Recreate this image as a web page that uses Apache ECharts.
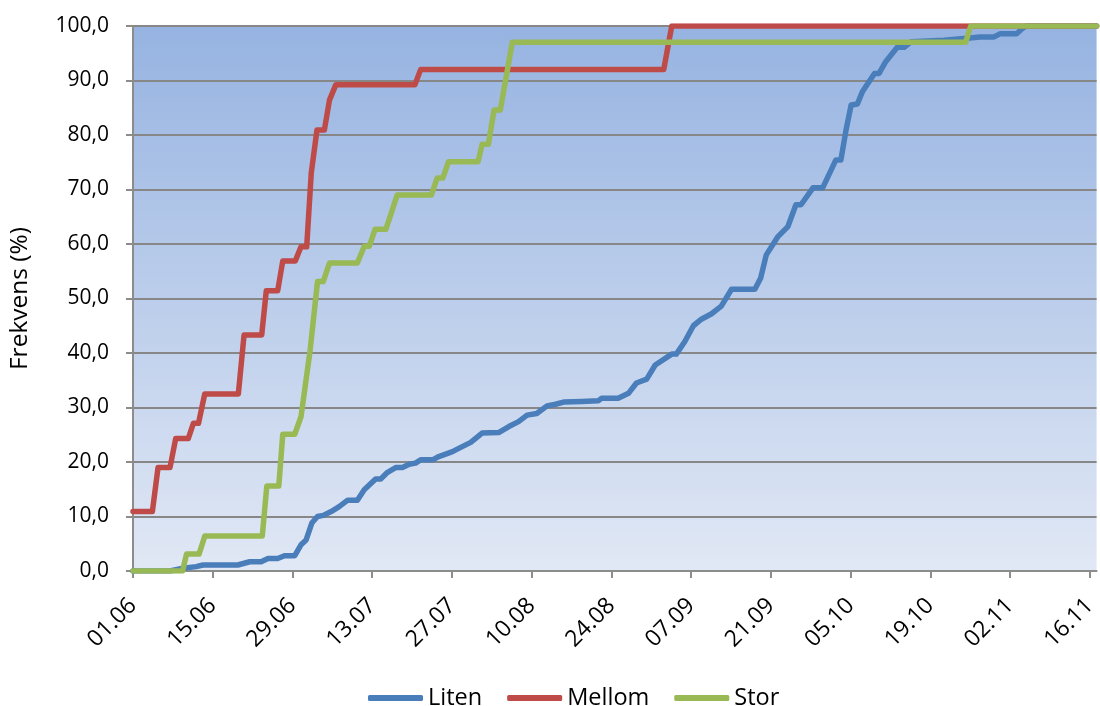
<!DOCTYPE html>
<html>
<head>
<meta charset="utf-8">
<title>Frekvens</title>
<script src="https://cdn.jsdelivr.net/npm/echarts@6/dist/echarts.min.js"></script>
<style>
  html, body { margin: 0; padding: 0; background: #ffffff; }
  #chart { width: 1100px; height: 706px; }
</style>
</head>
<body>
<div id="chart"></div>
<script>
// Date labels on the x axis, one every 14 days starting 01.06
const tickLabels = ['01.06', '15.06', '29.06', '13.07', '27.07', '10.08', '24.08',
                    '07.09', '21.09', '05.10', '19.10', '02.11', '16.11'];
const seriesNames = ['Liten', 'Mellom', 'Stor'];

// Days after 01.06 and cumulative frequency (%) for each group
const litenDays = [0, 6.5, 8.75, 11.1, 12.3, 18.4, 20.5, 22.5, 23.7, 25.4, 26.6, 28.4, 29.5, 30.4, 31.4,
  32.4, 33.4, 34.8, 36.2, 37.7, 39.4, 40.6, 42.6, 43.5, 44.7, 46.2, 47.3, 48.5, 49.6, 50.5, 52.6,
  53.7, 56.1, 57.2, 59.3, 61.3, 64.2, 66.0, 67.7, 69.2, 70.9, 72.7, 74.2, 75.6, 78.8, 81.7, 82.3,
  85.2, 87.0, 88.4, 90.2, 91.7, 94.6, 95.4, 96.9, 98.4, 99.8, 101.6, 103.3, 105.1, 109.2, 110.2,
  111.2, 113.2, 115.0, 116.4, 117.3, 119.4, 121.1, 122.6, 123.4, 124.3, 125.2, 126.1, 127.2, 128.1,
  130.2, 131.0, 132.2, 134.2, 135.4, 136.6, 142.4, 145.9, 148.8, 151.2, 152.3, 155.2, 156.1, 156.8, 169.2];
const litenPct = [0, 0, 0.5, 0.8, 1.1, 1.1, 1.7, 1.7, 2.3, 2.3, 2.8, 2.8, 4.8, 5.7, 8.8,
  10.0, 10.2, 10.9, 11.8, 13.0, 13.0, 14.9, 16.9, 16.9, 18.1, 19.0, 19.0, 19.6, 19.8, 20.4, 20.4,
  21.0, 21.9, 22.5, 23.6, 25.3, 25.4, 26.5, 27.4, 28.6, 28.9, 30.3, 30.6, 31.0, 31.1, 31.25, 31.7,
  31.7, 32.6, 34.5, 35.2, 37.8, 39.8, 39.8, 42.1, 45.0, 46.2, 47.2, 48.6, 51.7, 51.7, 53.7,
  58.0, 61.3, 63.2, 67.2, 67.2, 70.3, 70.3, 73.6, 75.4, 75.4, 80.9, 85.5, 85.7, 88.0,
  91.3, 91.3, 93.5, 96.1, 96.1, 97.1, 97.4, 97.7, 98.0, 98.0, 98.6, 98.6, 99.5, 100, 100];

const mellomDays = [0, 3.4, 4.4, 6.5, 7.5, 9.7, 10.6, 11.5, 12.6, 18.5, 19.5, 22.6, 23.4, 25.4, 26.3,
  28.5, 29.5, 30.5, 31.3, 32.3, 33.6, 34.5, 35.6, 49.5, 50.5, 93.2, 94.6, 169.2];
const mellomPct = [10.9, 10.9, 19.0, 19.0, 24.3, 24.3, 27.1, 27.1, 32.5, 32.5, 43.3, 43.3, 51.4, 51.4, 56.9,
  56.9, 59.5, 59.5, 73.0, 80.9, 80.9, 86.4, 89.2, 89.2, 92.0, 92.0, 100, 100];

const storDays = [0, 8.7, 9.4, 11.6, 12.6, 22.7, 23.5, 25.6, 26.3, 28.4, 29.5, 30.3, 31.1, 32.4, 33.4,
  34.5, 39.4, 40.6, 41.5, 42.5, 44.4, 46.4, 52.4, 53.4, 54.4, 55.4, 60.6, 61.3, 62.4, 63.4, 64.5,
  66.6, 146.2, 147.1, 169.2];
const storPct = [0, 0, 3.1, 3.1, 6.4, 6.4, 15.6, 15.6, 25.1, 25.1, 28.3, 34.4, 40.5, 53.1, 53.1,
  56.5, 56.5, 59.6, 59.6, 62.7, 62.7, 69.0, 69.0, 72.1, 72.1, 75.1, 75.1, 78.3, 78.3, 84.6, 84.6,
  97.0, 97.0, 100, 100];

const colors = ['#4A7EBB', '#BE4B48', '#98B954'];
const font = 'Open Sans, Noto Sans, sans-serif';

function pairs(days, vals) {
  return days.map((d, i) => [d, vals[i]]);
}

const chart = echarts.init(document.getElementById('chart'), null, { renderer: 'canvas' });

const lineSeries = [
  pairs(litenDays, litenPct),
  pairs(mellomDays, mellomPct),
  pairs(storDays, storPct)
].map((data, i) => ({
  name: seriesNames[i],
  type: 'line',
  data: data,
  showSymbol: false,
  symbol: 'none',
  smooth: false,
  animation: false,
  lineStyle: { color: colors[i], width: 5.5, cap: 'round', join: 'round' },
  itemStyle: { color: colors[i] },
  z: 2 + i
}));

chart.setOption({
  animation: false,
  color: colors,
  grid: {
    left: 133, right: 0, top: 26, bottom: 135,
    show: true,
    borderWidth: 0,
    backgroundColor: {
      type: 'linear', x: 0, y: 0, x2: 0, y2: 1,
      colorStops: [
        { offset: 0, color: '#96B3E1' },
        { offset: 1, color: '#E1E8F5' }
      ]
    }
  },
  legend: {
    data: seriesNames,
    top: 681,
    left: 363,
    icon: 'roundRect',
    itemWidth: 55,
    itemHeight: 6,
    itemGap: 25,
    textStyle: { fontFamily: font, fontSize: 23.5, color: '#000' }
  },
  xAxis: {
    type: 'value',
    min: 0,
    max: 169.2,
    interval: 14,
    splitLine: { show: false },
    axisLine: { show: true, lineStyle: { color: '#8C8C8C', width: 2 } },
    axisTick: { show: true, length: 7, lineStyle: { color: '#8C8C8C', width: 2 } },
    axisLabel: {
      rotate: 45,
      margin: 31,
      fontFamily: font,
      fontSize: 23,
      color: '#000',
      showMaxLabel: false,
      formatter: function (v) {
        const k = v / 14;
        return Number.isInteger(k) && tickLabels[k] ? tickLabels[k] : '';
      }
    }
  },
  yAxis: {
    type: 'value',
    min: 0,
    max: 100,
    interval: 10,
    name: 'Frekvens (%)',
    nameLocation: 'middle',
    nameRotate: 90,
    nameGap: 100,
    nameTextStyle: { fontFamily: font, fontSize: 24.5, color: '#000' },
    axisLine: { show: true, lineStyle: { color: '#8C8C8C', width: 2 } },
    axisTick: { show: true, length: 7, lineStyle: { color: '#8C8C8C', width: 2 } },
    splitLine: { show: true, lineStyle: { color: '#878787', width: 2 } },
    axisLabel: {
      margin: 24,
      fontFamily: font,
      fontSize: 21,
      color: '#000',
      formatter: function (v) { return v.toFixed(1).replace('.', ','); }
    }
  },
  series: lineSeries
});
</script>
</body>
</html>
